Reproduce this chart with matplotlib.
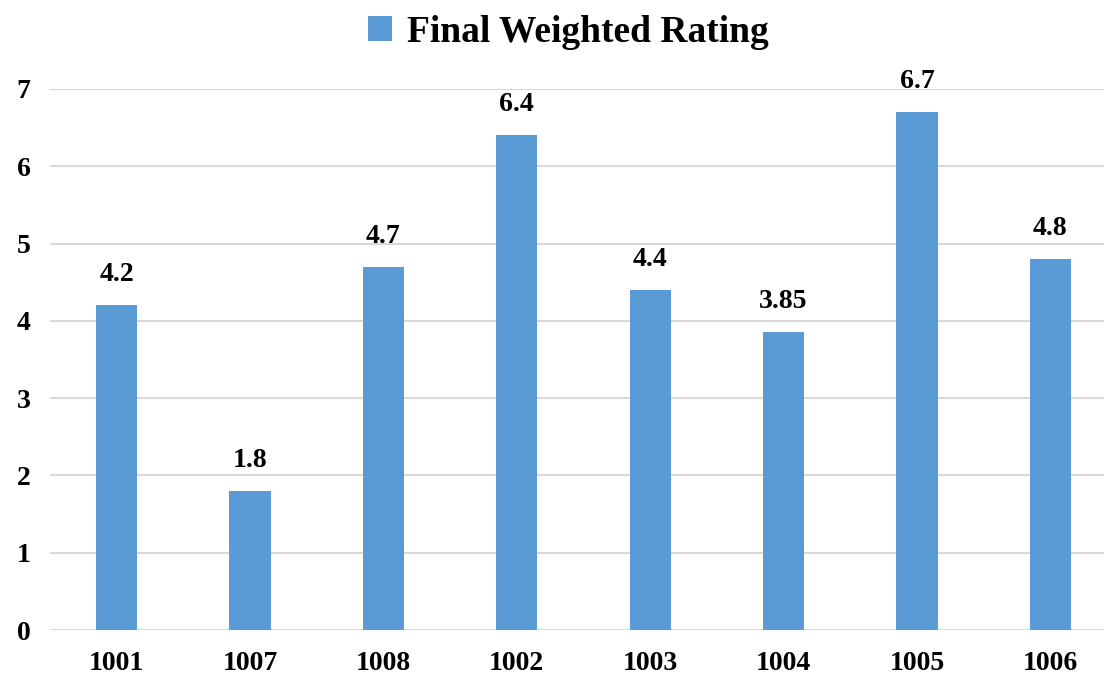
import matplotlib.pyplot as plt
import numpy as np

plt.rcParams['font.family'] = ['Liberation Serif', 'DejaVu Serif']
plt.rcParams['font.weight'] = 'bold'

ids = ['1001', '1007', '1008', '1002', '1003', '1004', '1005', '1006']
ratings = [4.2, 1.8, 4.7, 6.4, 4.4, 3.85, 6.7, 4.8]
labels = ['4.2', '1.8', '4.7', '6.4', '4.4', '3.85', '6.7', '4.8']

W, H = 1104, 682
fig = plt.figure(figsize=(W / 100, H / 100), dpi=100)
# axes a bit wider than the figure, the right side is cut off like the source
ax = fig.add_axes([50 / W, (H - 630) / H, 1067 / W, (630 - 89) / H])

x = np.arange(len(ids))
bars = ax.bar(x, ratings, width=0.31, color='#5B9BD5', zorder=3,
              label='Final Weighted Rating')

for xi, v, s in zip(x, ratings, labels):
    ax.annotate(s, (xi, v), xytext=(0, 13), textcoords='offset points',
                ha='center', va='bottom', fontsize=20, fontweight='bold')

ax.set_xlim(-0.5, 7.5)
ax.set_ylim(0, 7)
ax.set_yticks(range(0, 8))
ax.set_xticks(x)
ax.set_xticklabels(ids)
ax.tick_params(axis='both', length=0, labelsize=20)
ax.tick_params(axis='y', pad=14)
ax.tick_params(axis='x', pad=15)
for lab in ax.get_xticklabels() + ax.get_yticklabels():
    lab.set_fontweight('bold')

ax.yaxis.grid(True, color='#d9d9d9', linewidth=1.5, zorder=0)
for sp in ax.spines.values():
    sp.set_visible(False)

fig.legend(handles=[bars], labels=['Final Weighted Rating'], loc='center',
           bbox_to_anchor=(568 / W, 1 - 32 / H), frameon=False,
           prop={'size': 27, 'weight': 'bold'}, handlelength=0.64,
           handleheight=0.64, handletextpad=0.4)

fig.savefig('out.png', dpi=100, facecolor='white')
